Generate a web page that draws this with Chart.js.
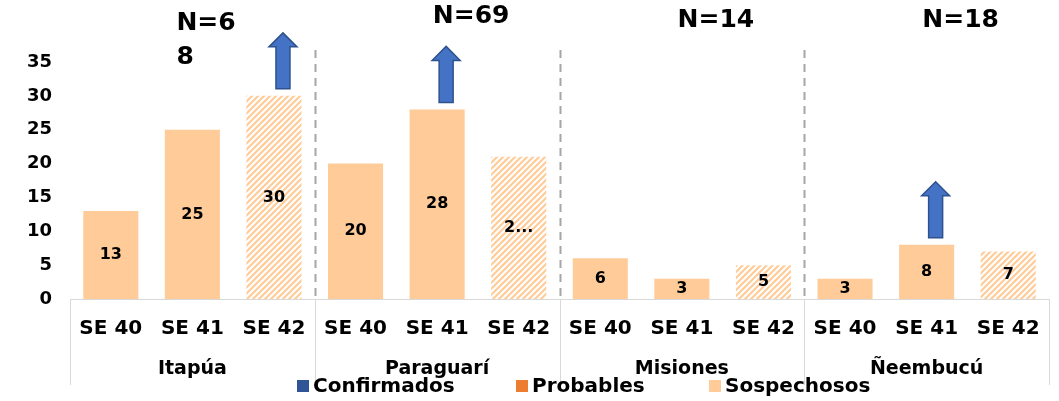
<!DOCTYPE html>
<html>
<head>
<meta charset="utf-8">
<script src="https://cdn.jsdelivr.net/npm/chart.js@4/dist/chart.umd.min.js"></script>
<style>
html,body{margin:0;padding:0;background:#fff;}
canvas{display:block;}
</style>
</head>
<body>
<canvas id="c" width="1059" height="401"></canvas>
<script>
// ---- data ----
const categories = ['SE 40','SE 41','SE 42','SE 40','SE 41','SE 42','SE 40','SE 41','SE 42','SE 40','SE 41','SE 42'];
const groups = ['Itapúa','Paraguarí','Misiones','Ñeembucú'];
const groupN = [['N=6','8'],['N=69'],['N=14'],['N=18']];
const confirmados = [0,0,0,0,0,0,0,0,0,0,0,0];
const probables   = [0,0,0,0,0,0,0,0,0,0,0,0];
const sospechosos = [13,25,30,20,28,21,6,3,5,3,8,7];
const valueLabels = ['13','25','30','20','28','2...','6','3','5','3','8','7'];
const arrowBars = [2,4,10];
const yTicks = [0,5,10,15,20,25,30,35];

const FONT = '"DejaVu Sans", Inter, sans-serif';
const C_CONF = '#2F5597', C_PROB = '#ED7D31', C_SOSP = '#FFCC99';

function makeHatch(){
  const s = 6;
  const c = document.createElement('canvas'); c.width = s; c.height = s;
  const g = c.getContext('2d');
  g.fillStyle = '#fff'; g.fillRect(0,0,s,s);
  g.strokeStyle = C_SOSP; g.lineWidth = 2.2;
  g.beginPath();
  g.moveTo(-1, s+1); g.lineTo(s+1, -1);
  g.moveTo(-s/2-1, s/2+1); g.lineTo(s/2+1, -s/2-1);
  g.moveTo(s/2-1, s*1.5+1); g.lineTo(s*1.5+1, s/2-1);
  g.stroke();
  return g.createPattern(c,'repeat');
}
const hatch = makeHatch();

const decor = {
  id:'decor',
  afterDraw(chart){
    const {ctx, chartArea:a, scales:{x,y}} = chart;
    const meta = chart.getDatasetMeta(2);
    const step = x.getPixelForValue(1) - x.getPixelForValue(0);
    ctx.save();
    // value labels
    ctx.fillStyle = '#000';
    ctx.font = 'bold 16px ' + FONT;
    ctx.textAlign = 'center'; ctx.textBaseline = 'middle';
    meta.data.forEach((bar,i)=>{
      const top = bar.y, bot = bar.base;
      ctx.fillText(valueLabels[i], bar.x, (top+bot)/2);
    });
    // dashed group separators
    ctx.strokeStyle = '#A6A6A6'; ctx.lineWidth = 2; ctx.setLineDash([8,6]);
    for(let g=1; g<groups.length; g++){
      const px = Math.round(x.getPixelForValue(g*3) - step/2) + 0.5;
      ctx.beginPath(); ctx.moveTo(px, 50); ctx.lineTo(px, a.bottom); ctx.stroke();
    }
    ctx.setLineDash([]);
    // bottom category box lines
    ctx.strokeStyle = '#D9D9D9'; ctx.lineWidth = 1;
    for(let g=0; g<=groups.length; g++){
      const px = Math.round(x.getPixelForValue(g*3) - step/2) + 0.5;
      ctx.beginPath(); ctx.moveTo(px, a.bottom); ctx.lineTo(px, 385); ctx.stroke();
    }
    // group labels
    ctx.fillStyle = '#000';
    ctx.font = 'bold 19px ' + FONT;
    groups.forEach((gname,g)=>{
      const cx = x.getPixelForValue(g*3+1);
      ctx.fillText(gname, cx, 369);
    });
    // N labels
    ctx.font = 'bold 25px ' + FONT;
    groupN.forEach((lines,g)=>{
      const cx = x.getPixelForValue(g*3+1);
      if(lines.length > 1){
        ctx.textAlign = 'left';
        lines.forEach((t,k)=> ctx.fillText(t, cx-16, 23 + k*34));
      } else {
        ctx.textAlign = 'center';
        ctx.fillText(lines[0], cx+34, g===1 ? 16 : 20);
      }
    });
    // arrows
    ctx.fillStyle = '#4472C4'; ctx.strokeStyle = '#2F528F'; ctx.lineWidth = 1.5;
    arrowBars.forEach(i=>{
      const bar = meta.data[i];
      const cx = bar.x + 9, bot = bar.y - 7, top = bot - 56;
      const sw = 7, hw = 14, hh = 14;
      ctx.beginPath();
      ctx.moveTo(cx, top);
      ctx.lineTo(cx+hw, top+hh);
      ctx.lineTo(cx+sw, top+hh);
      ctx.lineTo(cx+sw, bot);
      ctx.lineTo(cx-sw, bot);
      ctx.lineTo(cx-sw, top+hh);
      ctx.lineTo(cx-hw, top+hh);
      ctx.closePath();
      ctx.fill(); ctx.stroke();
    });
    // legend
    const items = [['Confirmados',C_CONF,297],['Probables',C_PROB,516],['Sospechosos',C_SOSP,709]];
    ctx.font = 'bold 20px ' + FONT;
    ctx.textAlign = 'left';
    items.forEach(([t,col,lx])=>{
      ctx.fillStyle = col; ctx.fillRect(lx, 380, 12, 12);
      ctx.fillStyle = '#000'; ctx.fillText(t, lx+16, 387);
    });
    ctx.restore();
  }
};

new Chart(document.getElementById('c'), {
  type:'bar',
  data:{
    labels: categories,
    datasets:[
      {label:'Confirmados', data: confirmados, backgroundColor: C_CONF},
      {label:'Probables', data: probables, backgroundColor: C_PROB},
      {label:'Sospechosos', data: sospechosos,
        backgroundColor: ctx => (ctx.dataIndex % 3 === 2) ? hatch : C_SOSP}
    ]
  },
  options:{
    responsive:false,
    animation:false,
    devicePixelRatio:1,
    layout:{padding:{top:62,right:10,left:0,bottom:0}},
    datasets:{bar:{barPercentage:0.675, categoryPercentage:1, borderWidth:0, borderColor:'rgba(0,0,0,0)', inflateAmount:0}},
    plugins:{legend:{display:false}, tooltip:{enabled:false}},
    scales:{
      x:{
        stacked:true,
        grid:{display:false, drawTicks:false},
        border:{display:true, color:'#D9D9D9', width:1},
        ticks:{color:'#000', font:{family:FONT, weight:'bold', size:20}, padding:18, maxRotation:0, autoSkip:false},
        afterFit(s){ s.height = 102; }
      },
      y:{
        stacked:true,
        min:0, max:35,
        afterBuildTicks(s){ s.ticks = yTicks.map(v=>({value:v})); },
        grid:{display:false, drawTicks:false},
        border:{display:false},
        ticks:{color:'#000', font:{family:FONT, weight:'bold', size:18}, padding:18},
        afterFit(s){ s.width = 70; }
      }
    }
  },
  plugins:[decor]
});
</script>
</body>
</html>
